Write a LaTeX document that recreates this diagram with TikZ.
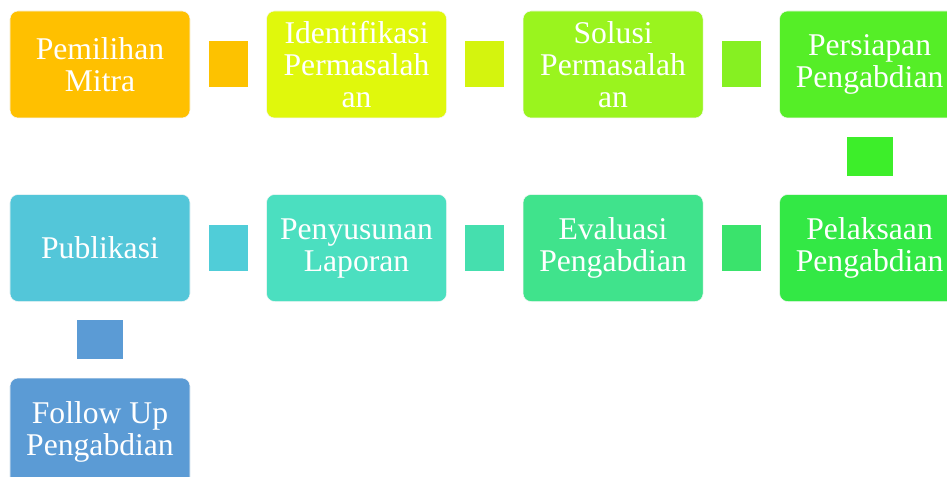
\documentclass[tikz,border=0pt]{standalone}
\usepackage{fontspec}
\setmainfont{Liberation Serif}
\usetikzlibrary{positioning, calc}

\definecolor{pemilihanC}{HTML}{FFC000}
\definecolor{linkA}{HTML}{FDC200}
\definecolor{identifikasiC}{HTML}{E0F80C}
\definecolor{linkB}{HTML}{D4F40E}
\definecolor{solusiC}{HTML}{9AF41E}
\definecolor{linkC}{HTML}{86F022}
\definecolor{persiapanC}{HTML}{55EE27}
\definecolor{linkD}{HTML}{3DEE2A}
\definecolor{pelaksaanC}{HTML}{33E845}
\definecolor{linkE}{HTML}{3AE36C}
\definecolor{evaluasiC}{HTML}{40E38C}
\definecolor{linkF}{HTML}{45DFAE}
\definecolor{penyusunanC}{HTML}{4BDFC0}
\definecolor{linkG}{HTML}{50CDD8}
\definecolor{publikasiC}{HTML}{53C6D9}
\definecolor{followupC}{HTML}{5B9BD5}

\begin{document}
\begin{tikzpicture}[node distance=1.52cm, every node/.style={font=\fontsize{18}{18.2}\selectfont, text=white}, align=center]
  % Styles
  \tikzset{
    block/.style={rectangle, draw=white!70!gray!20, line width=0.3pt, rounded corners=0.16cm, minimum width=3.6cm, minimum height=2.14cm, inner sep=0pt},
    hlink/.style={rectangle, minimum width=0.78cm, minimum height=0.92cm, inner sep=0pt},
    vlink/.style={rectangle, minimum width=0.92cm, minimum height=0.78cm, inner sep=0pt}
  }
  \clip (0,0) rectangle (18.94,-9.54);

  % Nodes
  \node (pemilihan) [block, fill=pemilihanC] at (2,-1.29) {Pemilihan\\Mitra};
  \node (identifikasi) [block, fill=identifikasiC, right=of pemilihan] {Identifikasi\\Permasalah\\an};
  \node (solusi) [block, fill=solusiC, right=of identifikasi] {Solusi\\Permasalah\\an};
  \node (persiapan) [block, fill=persiapanC, right=of solusi] {Persiapan\\Pengabdian};

  \node (pelaksaan) [block, fill=pelaksaanC, below=of persiapan] {Pelaksaan\\Pengabdian};
  \node (evaluasi) [block, fill=evaluasiC, left=of pelaksaan] {Evaluasi\\Pengabdian};
  \node (penyusunan) [block, fill=penyusunanC, left=of evaluasi] {Penyusunan\\Laporan};
  \node (publikasi) [block, fill=publikasiC, left=of penyusunan] {Publikasi};

  \node (followup) [block, fill=followupC, below=of publikasi] {Follow Up\\Pengabdian};

  % Connectors
  \node (link1) [hlink, fill=linkA] at ($(pemilihan)!0.5!(identifikasi)$) {};
  \node (link2) [hlink, fill=linkB] at ($(identifikasi)!0.5!(solusi)$) {};
  \node (link3) [hlink, fill=linkC] at ($(solusi)!0.5!(persiapan)$) {};
  \node (link4) [vlink, fill=linkD] at ($(persiapan)!0.5!(pelaksaan)$) {};
  \node (link5) [hlink, fill=linkE] at ($(pelaksaan)!0.5!(evaluasi)$) {};
  \node (link6) [hlink, fill=linkF] at ($(evaluasi)!0.5!(penyusunan)$) {};
  \node (link7) [hlink, fill=linkG] at ($(penyusunan)!0.5!(publikasi)$) {};
  \node (link8) [vlink, fill=followupC] at ($(publikasi)!0.5!(followup)$) {};
\end{tikzpicture}
\end{document}
